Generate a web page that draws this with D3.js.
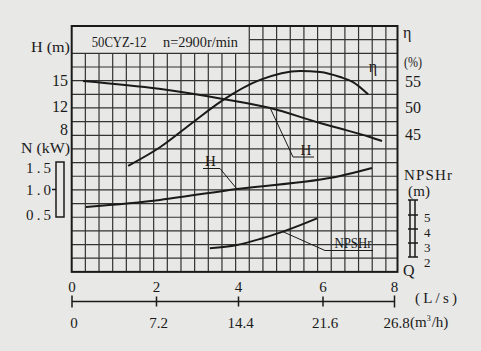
<!DOCTYPE html>
<html>
<head>
<meta charset="utf-8">
<script src="https://cdn.jsdelivr.net/npm/d3@7"></script>
<style>
  html, body { margin: 0; padding: 0; background: #e8e8e6; }
  svg { display: block; font-family: "Liberation Serif", "DejaVu Serif", serif; fill: #1a1a1a; }
</style>
</head>
<body>
<svg id="chart" width="481" height="351"></svg>
<script>
// curves, Q in L/s
const hQ = [0.26, 2.06, 3.62, 4.75, 5.93, 6.48, 7.31, 7.65];
const hVal = [14.89, 14.0, 12.85, 11.73, 9.07, 8.09, 6.58, 5.87];
const etaQ = [1.33, 2.085, 2.82, 3.62, 4.51, 5.46, 5.93, 6.48, 6.84, 7.26];
const etaVal = [39.0, 42.5, 46.8, 51.4, 55.2, 56.9, 56.7, 55.75, 54.8, 52.5];
const nQ = [0.33, 2.085, 3.96, 6.48, 7.37];
const nVal = [0.68, 0.81, 1.01, 1.245, 1.39];
const npQ = [3.30, 3.96, 4.51, 5.05, 5.86];
const npVal = [2.62, 2.86, 3.29, 3.81, 4.76];

// tick labels
const qTicks = [0, 2, 4, 6, 8];
const m3hLabels = ["0", "7.2", "14.4", "21.6", "26.8"];
const hTicks = [15, 12, 8];
const etaTicks = [55, 50, 45];
const nTicks = [1.5, 1.0, 0.5];
const npTicks = [5, 4, 3, 2];

const svg = d3.select("#chart");
const ink = "#1a1a1a";

// scales (the printed axes are a little uneven, so some are polylinear)
const x = d3.scaleLinear().domain([0, 2, 4, 6, 8]).range([72, 156.5, 238.5, 323, 394.5]);
const yH = d3.scaleLinear().domain([8, 12, 15]).range([129, 106.5, 80]);
const yEta = d3.scaleLinear().domain([45, 55]).range([134, 81]);
const yN = d3.scaleLinear().domain([0.5, 1.5]).range([217, 162]);
const yNP = d3.scaleLinear().domain([2, 5]).range([257, 215]);

// grid
const gx0 = 71.7, gy0 = 26, pitch = 13.66;
const gRight = 397.5, gBottom = gy0 + 18 * pitch;
const grid = svg.append("g").attr("stroke", "#333").attr("stroke-width", 1.2);
d3.range(1, 24).forEach(i => {
  const gx = gx0 + i * pitch;
  grid.append("line")
    .attr("x1", gx).attr("x2", gx)
    .attr("y1", i < 13 ? gy0 + 2 * pitch : gy0).attr("y2", gBottom);
});
d3.range(1, 18).forEach(j => {
  const gy = gy0 + j * pitch;
  grid.append("line")
    .attr("x1", j < 2 ? gx0 + 13 * pitch : gx0).attr("x2", gRight)
    .attr("y1", gy).attr("y2", gy);
});
svg.append("rect")
  .attr("x", gx0).attr("y", gy0)
  .attr("width", gRight - gx0).attr("height", gBottom - gy0)
  .attr("fill", "none").attr("stroke", ink).attr("stroke-width", 2);

// title
svg.append("text").attr("x", 91.7).attr("y", 46.5).attr("font-size", 15)
  .attr("textLength", 55).attr("lengthAdjust", "spacingAndGlyphs").text("50CYZ-12");
svg.append("text").attr("x", 163).attr("y", 46.5).attr("font-size", 15)
  .attr("textLength", 75).attr("lengthAdjust", "spacingAndGlyphs").text("n=2900r/min");

// curves
function curve(qs, vs, yScale) {
  const line = d3.line()
    .x(d => x(d[0]))
    .y(d => yScale(d[1]))
    .curve(d3.curveMonotoneX);
  svg.append("path")
    .attr("d", line(qs.map((q, i) => [q, vs[i]])))
    .attr("fill", "none").attr("stroke", ink).attr("stroke-width", 2);
}
curve(hQ, hVal, yH);
curve(etaQ, etaVal, yEta);
curve(nQ, nVal, yN);
curve(npQ, npVal, yNP);

// curve labels with leader lines
function callout(px, py, ex, ey, ux, label, tx, size, len) {
  svg.append("polyline")
    .attr("points", [[px, py], [ex, ey], [ux, ey]].map(p => p.join(",")).join(" "))
    .attr("fill", "none").attr("stroke", ink).attr("stroke-width", 1);
  const t = svg.append("text").attr("x", tx).attr("y", ey - 2.5)
    .attr("text-anchor", "middle").attr("font-size", size).text(label);
  if (len) t.attr("textLength", len).attr("lengthAdjust", "spacingAndGlyphs");
}
callout(x(hQ[3]), yH(hVal[3]), 293, 157, 314, "H", 306, 15);
callout(x(nQ[2]), yN(nVal[2]), 220, 168.5, 203, "H", 210.5, 15);
callout(x(npQ[3]), yNP(npVal[3]), 325, 250.5, 373, "NPSHr", 353, 15, 37);
svg.append("text").attr("x", x(7.4)).attr("y", yEta(57.5) + 4)
  .attr("text-anchor", "middle").attr("font-size", 16).text("η");

// left: H axis
svg.append("text").attr("x", 31).attr("y", 52).attr("font-size", 15)
  .attr("textLength", 39).attr("lengthAdjust", "spacingAndGlyphs").text("H (m)");
svg.selectAll(".hlab").data(hTicks).enter().append("text")
  .attr("x", 68).attr("y", d => yH(d) + 5.5)
  .attr("text-anchor", "end").attr("font-size", 16).text(d => d);

// left: N axis
svg.append("text").attr("x", 21).attr("y", 153).attr("font-size", 15)
  .attr("textLength", 49).attr("lengthAdjust", "spacingAndGlyphs").text("N (kW)");
svg.append("rect")
  .attr("x", 56).attr("y", yN(1.5))
  .attr("width", 8).attr("height", yN(0.5) - yN(1.5))
  .attr("fill", "none").attr("stroke", ink).attr("stroke-width", 1.5);
svg.append("line").attr("x1", 52).attr("x2", 56)
  .attr("y1", yN(1.0)).attr("y2", yN(1.0)).attr("stroke", ink).attr("stroke-width", 1.5);
svg.selectAll(".nlab").data(nTicks).enter().append("text")
  .attr("x", 51).attr("y", d => Math.max(168, Math.min(215, yN(d))) + 5)
  .attr("text-anchor", "end").attr("font-size", 15)
  .attr("textLength", 25).attr("lengthAdjust", "spacing")
  .text(d => d.toFixed(1));

// right: efficiency axis
svg.append("text").attr("x", 403).attr("y", 38).attr("font-size", 16).text("η");
svg.append("text").attr("x", 404).attr("y", 67).attr("font-size", 15)
  .attr("textLength", 18).attr("lengthAdjust", "spacingAndGlyphs").text("(%)");
svg.selectAll(".elab").data(etaTicks).enter().append("text")
  .attr("x", 405).attr("y", d => yEta(d) + 5.5)
  .attr("font-size", 16).text(d => d);

// right: NPSHr axis
svg.append("text").attr("x", 404).attr("y", 180).attr("font-size", 15)
  .attr("textLength", 48).attr("lengthAdjust", "spacing").text("NPSHr");
svg.append("text").attr("x", 408).attr("y", 196).attr("font-size", 15)
  .attr("textLength", 22).attr("lengthAdjust", "spacing").text("(m)");
const npTop = yNP(5) - 15;
[410, 415].forEach(bx => {
  svg.append("line").attr("x1", bx).attr("x2", bx)
    .attr("y1", npTop).attr("y2", yNP(2)).attr("stroke", ink).attr("stroke-width", 1.5);
});
[npTop].concat(npTicks.map(yNP)).forEach(ty => {
  svg.append("line").attr("x1", 408).attr("x2", 418)
    .attr("y1", ty).attr("y2", ty).attr("stroke", ink).attr("stroke-width", 1.5);
});
// the printed digits sit a little lower than their ticks, drifting down the bar
svg.selectAll(".plab").data(npTicks).enter().append("text")
  .attr("x", 424).attr("y", d => yNP(d) + 2 + (5 - d) + 4.5)
  .attr("font-size", 13).text(d => d);
svg.append("text").attr("x", 403).attr("y", 276).attr("font-size", 16).text("Q");

// bottom flow scales
svg.selectAll(".qlab").data(qTicks).enter().append("text")
  .attr("x", d => x(d)).attr("y", 291.5)
  .attr("text-anchor", "middle").attr("font-size", 15).text(d => d);
const axY = 301.5;
svg.append("line").attr("x1", x(0)).attr("x2", x(8))
  .attr("y1", axY).attr("y2", axY).attr("stroke", ink).attr("stroke-width", 1.5);
svg.selectAll(".qtick").data(qTicks).enter().append("line")
  .attr("x1", d => x(d)).attr("x2", d => x(d))
  .attr("y1", (d, i) => i === 0 || i === qTicks.length - 1 ? axY - 6 : axY - 5)
  .attr("y2", (d, i) => i === 0 || i === qTicks.length - 1 ? axY + 6 : axY + 5)
  .attr("stroke", ink).attr("stroke-width", 1.5);
svg.selectAll(".mlab").data(m3hLabels).enter().append("text")
  .attr("x", (d, i) => x(qTicks[i]) + 2).attr("y", 328)
  .attr("text-anchor", "middle").attr("font-size", 15).text(d => d);
svg.append("text").attr("x", 415).attr("y", 303).attr("font-size", 15)
  .attr("textLength", 42).attr("lengthAdjust", "spacing").text("(L/s)");
const m3 = svg.append("text").attr("x", 410).attr("y", 327).attr("font-size", 15);
m3.append("tspan").text("(m");
m3.append("tspan").attr("font-size", 8).attr("dy", -6).text("3");
m3.append("tspan").attr("dy", 6).attr("dx", 1).text("/h)");
</script>
</body>
</html>
